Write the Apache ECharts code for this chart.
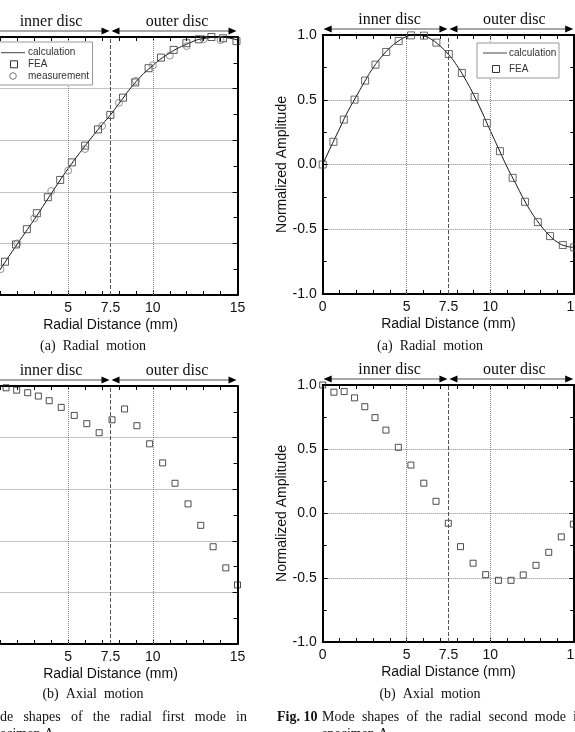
<!DOCTYPE html>
<html><head><meta charset="utf-8">
<script src="https://cdn.jsdelivr.net/npm/echarts@6/dist/echarts.min.js"></script>
<style>html,body{margin:0;padding:0;background:#fff}#c{width:575px;height:732px}</style>
</head><body><div id="c"></div>
<script>
// ---------- data ----------
const xTicks = [0,1,2,3,4,5,6,7,8,9,10,11,12,13,14,15];
const xLabels = [0, 5, 7.5, 10, 15];
const vGrid = [5, 10];
const discBoundary = 7.5;
const discNames = ['inner disc', 'outer disc'];

// Fig. 9 (a) radial motion, radial first mode
const r1Calc = [0,1,2,3,4,5,6,7,7.5,8,9,10,11,12,13,14,15];
const v1Calc = [0,0.1,0.198,0.293,0.393,0.49,0.578,0.66,0.698,0.742,0.826,0.89,0.938,0.972,0.994,0.999,0.988];
const r1Fea = [1.27,1.92,2.56,3.15,3.80,4.53,5.22,6.00,6.76,7.49,8.24,8.96,9.75,10.48,11.23,11.98,12.71,13.46,14.15,14.94];
const v1Fea = [0.129,0.196,0.255,0.317,0.379,0.446,0.514,0.579,0.642,0.698,0.765,0.824,0.879,0.920,0.950,0.976,0.991,1.0,0.995,0.984];
const r1Meas = [1,2,3,4,5,6,7,8,9,10,11,12,13,14];
const v1Meas = [0.100,0.200,0.297,0.403,0.482,0.566,0.655,0.745,0.83,0.89,0.928,0.965,0.992,0.988];

// Fig. 10 (a) radial motion, radial second mode
const r2Calc = [0,0.5,1,1.5,2,2.5,3,3.5,4,4.5,5,5.5,6,6.5,7,7.5,8,8.5,9,9.5,10,10.5,11,11.5,12,12.5,13,13.5,14,14.5,15];
const v2Calc = [0,0.14,0.275,0.41,0.525,0.64,0.745,0.83,0.9,0.952,0.988,1.0,0.993,0.965,0.915,0.85,0.765,0.66,0.54,0.405,0.26,0.12,-0.02,-0.145,-0.27,-0.38,-0.47,-0.545,-0.6,-0.63,-0.64];
const r2Fea = [0,0.64,1.26,1.90,2.53,3.15,3.79,4.53,5.27,6.04,6.78,7.52,8.30,9.06,9.79,10.57,11.33,12.07,12.83,13.56,14.32,15.0];
const v2Fea = [0,0.175,0.347,0.501,0.648,0.771,0.869,0.954,0.997,0.995,0.941,0.853,0.707,0.522,0.321,0.103,-0.103,-0.288,-0.445,-0.553,-0.622,-0.640];

// Fig. 9 (b) axial motion
const r3Fea = [1.33,1.96,2.61,3.24,3.88,4.59,5.36,6.10,6.83,7.59,8.33,9.06,9.81,10.58,11.31,12.08,12.83,13.56,14.31,15.0];
const v3Fea = [0.993,0.984,0.974,0.961,0.943,0.917,0.886,0.854,0.819,0.869,0.911,0.846,0.776,0.702,0.623,0.543,0.460,0.377,0.295,0.229];

// Fig. 10 (b) axial motion
const r4Fea = [0,0.67,1.28,1.90,2.51,3.12,3.77,4.51,5.26,6.03,6.76,7.49,8.22,8.97,9.72,10.48,11.23,11.96,12.72,13.48,14.23,14.95];
const v4Fea = [1.0,0.944,0.949,0.90,0.831,0.746,0.649,0.515,0.377,0.236,0.095,-0.076,-0.258,-0.387,-0.476,-0.520,-0.520,-0.478,-0.403,-0.302,-0.182,-0.083];

const xAxisName = 'Radial Distance (mm)';
const yAxisName = 'Normalized Amplitude';
const legendLeft = ['calculation', 'FEA', 'measurement'];
const legendRight = ['calculation', 'FEA'];
const subTitlesA = '(a)  Radial  motion';
const subTitlesB = '(b)  Axial  motion';
const captionLeft = ['Mode', 'shapes', 'of', 'the', 'radial', 'first', 'mode', 'in'];
const captionRightLabel = 'Fig. 10';
const captionRight = ['Mode', 'shapes', 'of', 'the', 'radial', 'second', 'mode', 'in'];
const captionLine2 = 'specimen A.';

// ---------- layout ----------
const SANS = 'Liberation Sans, Arial, sans-serif';
const SERIF = 'Liberation Serif, Times New Roman, serif';
const zip = (a, b) => a.map((x, i) => [x, b[i]]);

const grids = [
  {left: -16.5, top: 37, width: 254, height: 258, outerBoundsMode: 'none'},
  {left: 322.7, top: 35, width: 251.5, height: 259, outerBoundsMode: 'none'},
  {left: -16.5, top: 386, width: 254, height: 258, outerBoundsMode: 'none'},
  {left: 322.7, top: 385, width: 251.5, height: 257, outerBoundsMode: 'none'}
];
const yCfg = [
  {min: 0, max: 1, interval: 0.2, labels: false},
  {min: -1, max: 1, interval: 0.5, labels: true},
  {min: 0, max: 1, interval: 0.2, labels: false},
  {min: -1, max: 1, interval: 0.5, labels: true}
];

const xAxes = [], yAxes = [];
grids.forEach((g, i) => {
  const base = {
    type: 'value', gridIndex: i, min: 0, max: 15,
    axisLine: {show: true, onZero: false, lineStyle: {color: '#000', width: 2}},
    axisTick: {show: true, inside: true, length: 4, customValues: xTicks, lineStyle: {color: '#000', width: 1}},
    splitLine: {show: false}
  };
  xAxes.push(Object.assign({}, base, {
    position: 'bottom',
    axisLabel: {show: true, customValues: xLabels, margin: 6, fontSize: 14, fontFamily: SANS, color: '#111',
      formatter: v => String(v)},
    name: xAxisName, nameLocation: 'middle', nameGap: 23,
    nameTextStyle: {fontSize: 14, fontFamily: SANS, color: '#111'}
  }));
  xAxes.push(Object.assign({}, base, {position: 'top', axisLabel: {show: false}}));
  const yb = {
    type: 'value', gridIndex: i, min: yCfg[i].min, max: yCfg[i].max, interval: yCfg[i].interval,
    axisLine: {show: true, onZero: false, lineStyle: {color: '#000', width: 2}},
    axisTick: {show: true, inside: true, length: 5, lineStyle: {color: '#000'}},
    minorTick: {show: true, splitNumber: 2, length: 4, lineStyle: {color: '#000'}}
  };
  yAxes.push(Object.assign({}, yb, {
    position: 'left',
    axisLabel: {show: yCfg[i].labels, margin: 6, fontSize: 14, fontFamily: SANS, color: '#111',
      formatter: v => v.toFixed(1)},
    splitLine: {show: true, lineStyle: {color: '#888', type: 'dotted', width: 1}},
    name: yCfg[i].labels ? yAxisName : '', nameLocation: 'middle', nameGap: 25,
    nameTextStyle: {fontSize: 14, fontFamily: SANS, color: '#111'}
  }));
  yAxes.push(Object.assign({}, yb, {position: 'right', axisLabel: {show: false}, splitLine: {show: false}}));
});

function gridLines() {
  return {
    silent: true, symbol: 'none', label: {show: false},
    data: vGrid.map(v => ({xAxis: v, lineStyle: {color: '#888', type: 'dotted', width: 1}}))
      .concat([{xAxis: discBoundary, lineStyle: {color: '#555', type: 'dashed', width: 1}}])
  };
}
const sq = c => ({color: 'rgba(0,0,0,0)', borderColor: c, borderWidth: 1});

const series = [
  {name: 'calculation', type: 'line', xAxisIndex: 0, yAxisIndex: 0, data: zip(r1Calc, v1Calc), smooth: true,
   symbol: 'none', lineStyle: {color: '#111', width: 1}, z: 3},
  {name: 'FEA', type: 'scatter', xAxisIndex: 0, yAxisIndex: 0, data: zip(r1Fea, v1Fea), symbol: 'rect',
   symbolSize: 7, itemStyle: sq('#333'), markLine: gridLines(), z: 4},
  {name: 'measurement', type: 'scatter', xAxisIndex: 0, yAxisIndex: 0, data: zip(r1Meas, v1Meas), symbol: 'circle',
   symbolSize: 7, itemStyle: sq('#777'), z: 4},
  {name: 'calculation', type: 'line', xAxisIndex: 2, yAxisIndex: 2, data: zip(r2Calc, v2Calc), smooth: true,
   symbol: 'none', lineStyle: {color: '#111', width: 1}, z: 3},
  {name: 'FEA', type: 'scatter', xAxisIndex: 2, yAxisIndex: 2, data: zip(r2Fea, v2Fea), symbol: 'rect',
   symbolSize: 7, itemStyle: sq('#444'), markLine: gridLines(), z: 4},
  {name: 'FEA', type: 'scatter', xAxisIndex: 4, yAxisIndex: 4, data: zip(r3Fea, v3Fea), symbol: 'rect',
   symbolSize: 6, itemStyle: sq('#222'), markLine: gridLines(), z: 4},
  {name: 'FEA', type: 'scatter', xAxisIndex: 6, yAxisIndex: 6, data: zip(r4Fea, v4Fea), symbol: 'rect',
   symbolSize: 6, itemStyle: sq('#222'), markLine: gridLines(), z: 4}
];

const chart = echarts.init(document.getElementById('c'), null, {renderer: 'canvas'});
chart.setOption({
  animation: false, backgroundColor: '#fff',
  grid: grids, xAxis: xAxes, yAxis: yAxes, series: series
});

// ---------- annotations (positions derived from the axes) ----------
const gfx = [];
function discArrows(gi) {
  const xa = gi * 2, ya = gi * 2;
  const p0 = chart.convertToPixel({xAxisIndex: xa}, 0);
  const pm = chart.convertToPixel({xAxisIndex: xa}, discBoundary);
  const p1 = chart.convertToPixel({xAxisIndex: xa}, 15);
  const top = chart.convertToPixel({yAxisIndex: ya}, yCfg[gi].max);
  const ay = top - 6;
  const L = 8, H = 3.6;
  gfx.push({type: 'line', shape: {x1: p0 + 2, y1: ay, x2: pm - 3, y2: ay}, style: {stroke: '#a8a8a8', lineWidth: 2}});
  gfx.push({type: 'line', shape: {x1: pm + 3, y1: ay, x2: p1 - 3, y2: ay}, style: {stroke: '#a8a8a8', lineWidth: 2}});
  const head = (tip, dir) => ({type: 'polygon', shape: {points: [[tip, ay], [tip - dir * L, ay - H], [tip - dir * L, ay + H]]},
    style: {fill: '#000'}});
  gfx.push(head(p0 + 1, -1), head(pm - 1, 1), head(pm + 1, -1), head(p1 - 1, 1));
  const txt = (x, t) => ({type: 'text', x: x, y: ay - 9, style: {text: t, font: '16px ' + SERIF, fill: '#111',
    align: 'center', verticalAlign: 'middle'}});
  gfx.push(txt((p0 + pm) / 2 + 4, discNames[0]), txt((pm + p1) / 2 + 3, discNames[1]));
}
[0, 1, 2, 3].forEach(discArrows);

// legends drawn as boxes
const LF = '10px ' + SANS;
function legendBox(x0, y0, w, h, rows) {
  gfx.push({type: 'rect', z: 50, shape: {x: x0, y: y0, width: w, height: h}, style: {fill: '#fff', stroke: '#999', lineWidth: 1}});
  rows.forEach(r => {
    if (r.kind === 'line') gfx.push({type: 'line', z: 51, shape: {x1: r.ix - 12, y1: r.y, x2: r.ix + 12, y2: r.y}, style: {stroke: '#444', lineWidth: 1}});
    if (r.kind === 'rect') gfx.push({type: 'rect', z: 51, shape: {x: r.ix - 3.5, y: r.y - 3.5, width: 7, height: 7}, style: {fill: 'none', stroke: '#333', lineWidth: 1}});
    if (r.kind === 'circle') gfx.push({type: 'circle', z: 51, shape: {cx: r.ix, cy: r.y, r: 3.3}, style: {fill: 'none', stroke: '#777', lineWidth: 1}});
    gfx.push({type: 'text', z: 51, x: r.tx, y: r.y, style: {text: r.text, font: LF, fill: '#333', align: 'left', verticalAlign: 'middle'}});
  });
}
legendBox(-1, 42, 93.5, 43, [
  {kind: 'line', ix: 13, y: 52.7, tx: 28, text: legendLeft[0]},
  {kind: 'rect', ix: 14, y: 64.3, tx: 28, text: legendLeft[1]},
  {kind: 'circle', ix: 13, y: 76, tx: 28, text: legendLeft[2]}
]);
legendBox(477, 43, 82, 35, [
  {kind: 'line', ix: 495, y: 53, tx: 509, text: legendRight[0]},
  {kind: 'rect', ix: 496, y: 69, tx: 509, text: legendRight[1]}
]);

const T = (x, y, t, font, align) => ({type: 'text', x: x, y: y,
  style: {text: t, font: font, fill: '#111', align: align || 'center', verticalAlign: 'middle'}});
const capFont = '14px ' + SERIF;
gfx.push(T(93, 346, subTitlesA, capFont), T(430, 346, subTitlesA, capFont));
gfx.push(T(93, 694, subTitlesB, capFont), T(430, 694, subTitlesB, capFont));

const mctx = document.createElement('canvas').getContext('2d');
function tw(t, font) { mctx.font = font; return mctx.measureText(t).width; }
function justify(words, x0, x1, y, font) {
  const w = words.map(t => tw(t, font));
  const gap = (x1 - x0 - w.reduce((a, b) => a + b, 0)) / (words.length - 1);
  let x = x0;
  words.forEach((t, i) => { gfx.push(T(x, y, t, font, 'left')); x += w[i] + gap; });
}
justify(captionLeft, -tw('Mo', capFont), 247, 717, capFont);
gfx.push(T(277, 717, captionRightLabel, 'bold 14px ' + SERIF, 'left'));
justify(captionRight, 322, 584, 717, capFont);
gfx.push(T(-tw('sp', capFont), 734, captionLine2, capFont, 'left'), T(322, 734, captionLine2, capFont, 'left'));

chart.setOption({graphic: {elements: gfx}});
</script></body></html>
